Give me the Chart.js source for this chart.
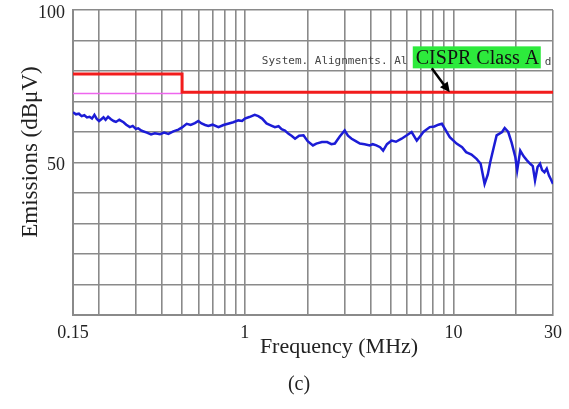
<!DOCTYPE html>
<html>
<head>
<meta charset="utf-8">
<script src="https://cdn.jsdelivr.net/npm/chart.js@4.4.0/dist/chart.umd.min.js"></script>
<style>
  body { margin: 0; background: #fff; }
  #wrap { width: 569px; height: 409px; }
</style>
</head>
<body>
<div id="wrap"><canvas id="graph" width="569" height="409"></canvas></div>
<script>
// measured trace, frequency in MHz
const freq = [
  0.150, 0.155, 0.160, 0.165, 0.170, 0.175, 0.180, 0.185, 0.190, 0.195,
  0.200, 0.205, 0.210, 0.215, 0.221, 0.228, 0.235, 0.241, 0.250, 0.262,
  0.270, 0.281, 0.290, 0.300, 0.308, 0.320, 0.339, 0.355, 0.370, 0.392,
  0.410, 0.430, 0.454, 0.480, 0.500, 0.526, 0.550, 0.576, 0.598, 0.620,
  0.645, 0.668, 0.700, 0.747, 0.790, 0.838, 0.880, 0.930, 0.970, 1.000,
  1.050, 1.115, 1.160, 1.210, 1.270, 1.330, 1.393, 1.450, 1.500, 1.556,
  1.620, 1.680, 1.740, 1.820, 1.910, 2.000, 2.120, 2.200, 2.340, 2.480,
  2.600, 2.700, 2.850, 3.010, 3.120, 3.250, 3.400, 3.560, 3.750, 3.970,
  4.100, 4.270, 4.450, 4.600, 4.800, 5.050, 5.300, 5.640, 6.000, 6.300,
  6.670, 7.000, 7.170, 7.700, 8.100, 8.470, 8.800, 9.100, 9.600, 10.35,
  11.0, 11.5, 12.2, 12.9, 13.5, 14.1, 14.6, 15.0, 15.6, 16.1,
  17.1, 17.6, 18.3, 19.0, 19.8, 20.2, 20.9, 21.7, 22.5, 23.4,
  24.0, 24.6, 25.3, 26.0, 26.6, 27.3, 28.0, 28.7, 29.3, 30.0
]
const emissions = [
  66.5, 65.8, 66.0, 65.2, 65.5, 64.8, 65.0, 64.4, 65.6, 64.3,
  63.6, 64.2, 64.8, 64.0, 65.0, 64.2, 63.6, 63.3, 64.0, 63.2,
  62.4, 61.6, 62.0, 61.0, 61.2, 60.4, 59.8, 59.2, 59.6, 59.3,
  59.8, 59.4, 60.2, 60.8, 61.5, 62.7, 62.3, 62.9, 63.6, 62.8,
  62.3, 62.0, 62.4, 61.6, 62.3, 62.8, 63.2, 63.8, 63.6, 64.4,
  64.9, 65.6, 65.2, 64.4, 62.8, 62.2, 61.6, 61.9, 60.9, 60.5,
  59.4, 58.7, 57.8, 58.8, 58.9, 57.0, 55.6, 56.2, 56.7, 56.7,
  56.0, 56.2, 58.5, 60.5, 58.8, 57.8, 57.0, 56.2, 56.0, 55.6,
  56.0, 55.6, 55.0, 53.9, 56.0, 57.2, 56.8, 57.8, 59.0, 60.0,
  57.2, 59.0, 60.0, 61.6, 61.8, 62.4, 62.7, 61.0, 58.3, 56.2,
  55.0, 53.4, 52.6, 51.2, 49.6, 43.0, 46.0, 50.1, 55.0, 58.9,
  60.0, 61.3, 60.0, 56.5, 51.7, 47.4, 53.9, 52.0, 50.7, 49.5,
  48.8, 44.1, 48.5, 49.6, 47.5, 46.8, 48.0, 45.7, 44.5, 43.0
]

// CISPR class A limit (step at 0.5 MHz)
const limitFreq = [0.15, 0.5, 0.5, 30]
const limitLevel = [79, 79, 73, 73]
const avgFreq = [0.15, 0.5]
const avgLevel = [72.6, 72.6]

const xGrid = [0.15, 0.2, 0.3, 0.4, 0.5, 0.6, 0.7, 0.8, 0.9, 1, 2, 3, 4, 5, 6, 7, 8, 9, 10, 20, 30]
const xLabels = [0.15, 1, 10, 30]
const yLabels = [50, 100]

// where the callout arrow points
const noteFreq = 9.6
const noteLevel = 73

function pairs (xs, ys) {
  return xs.map((x, i) => ({ x: x, y: ys[i] }))
}

const textPlugin = {
  id: 'texts',
  afterDraw: (chart) => {
    const { ctx } = chart
    const xs = chart.scales.x
    const ys = chart.scales.y
    ctx.save()
    ctx.fillStyle = '#222'
    ctx.textAlign = 'center'
    ctx.textBaseline = 'middle'

    ctx.font = '22px "Liberation Serif"'
    ctx.fillText('Frequency (MHz)', 339, 347)
    ctx.font = '20px "Liberation Serif"'
    ctx.fillText('(c)', 299, 385)

    ctx.save()
    ctx.translate(31, 152)
    ctx.rotate(-Math.PI / 2)
    ctx.font = '23px "Liberation Serif"'
    ctx.fillText('Emissions (dBμV)', 0, 0)
    ctx.restore()

    // callout
    const tx = xs.getPixelForValue(noteFreq)
    const ty = ys.getPixelForValue(noteLevel)
    const bx = tx - 37
    const by = ty - 46

    ctx.textAlign = 'left'
    ctx.font = '11px "DejaVu Sans Mono"'
    ctx.fillStyle = '#444'
    ctx.fillText('System. Alignments. Al', bx - 151, by + 15)
    ctx.fillText('d', bx + 132, by + 16)

    ctx.fillStyle = '#2dea3c'
    ctx.fillRect(bx, by, 128, 22)
    ctx.fillStyle = '#111'
    ctx.textBaseline = 'alphabetic'
    ctx.font = '20px "Liberation Serif"'
    ctx.fillText('CISPR Class A', bx + 3, by + 18)

    // arrow
    const sx = bx + 19
    const sy = by + 22
    ctx.strokeStyle = '#000'
    ctx.lineWidth = 2.5
    ctx.beginPath()
    ctx.moveTo(sx, sy)
    ctx.lineTo(tx - 4, ty - 5)
    ctx.stroke()
    const ang = Math.atan2(ty - sy, tx - sx)
    ctx.fillStyle = '#000'
    ctx.beginPath()
    ctx.moveTo(tx, ty)
    ctx.lineTo(tx - 11 * Math.cos(ang - 0.45), ty - 11 * Math.sin(ang - 0.45))
    ctx.lineTo(tx - 11 * Math.cos(ang + 0.45), ty - 11 * Math.sin(ang + 0.45))
    ctx.closePath()
    ctx.fill()
    ctx.restore()
  }
}

new Chart('graph', {
  type: 'scatter',
  data: {
    datasets: [
      {
        label: 'Emissions',
        data: pairs(freq, emissions),
        showLine: true,
        borderColor: '#1c1cd6',
        borderWidth: 2.5,
        pointRadius: 0,
        order: 3
      },
      {
        label: 'Average',
        data: pairs(avgFreq, avgLevel),
        showLine: true,
        borderColor: '#ee66ee',
        borderWidth: 1.5,
        pointRadius: 0,
        order: 2
      },
      {
        label: 'CISPR Class A',
        data: pairs(limitFreq, limitLevel),
        showLine: true,
        borderColor: '#f21c1c',
        borderWidth: 3,
        pointRadius: 0,
        order: 1
      }
    ]
  },
  options: {
    responsive: false,
    animation: false,
    layout: { padding: { top: 10, right: 16, left: 0, bottom: 0 } },
    plugins: {
      legend: { display: false },
      tooltip: { enabled: false }
    },
    scales: {
      x: {
        type: 'logarithmic',
        min: 0.15,
        max: 30,
        afterBuildTicks: (scale) => {
          scale.ticks = xGrid.map(v => ({ value: v }))
        },
        afterFit: (scale) => { scale.height = 94 },
        ticks: {
          autoSkip: false,
          maxRotation: 0,
          padding: 7,
          color: '#222',
          font: { family: 'Liberation Serif', size: 18 },
          callback: (v) => xLabels.some(l => Math.abs(l - v) < 1e-6) ? String(v) : ''
        },
        grid: { color: '#8a8a8a', lineWidth: 1.6, drawTicks: false },
        border: { color: '#8a8a8a', width: 2 }
      },
      y: {
        min: 0,
        max: 100,
        afterFit: (scale) => {
          scale.width = 73
          scale.paddingTop = 0
          scale.paddingBottom = 0
        },
        ticks: {
          stepSize: 10,
          padding: 8,
          labelOffset: 3,
          color: '#222',
          font: { family: 'Liberation Serif', size: 18 },
          callback: (v) => yLabels.includes(v) ? String(v) : ''
        },
        grid: { color: '#8a8a8a', lineWidth: 1.6, drawTicks: false },
        border: { color: '#8a8a8a', width: 2 }
      }
    }
  },
  plugins: [textPlugin]
})
</script>
</body>
</html>
